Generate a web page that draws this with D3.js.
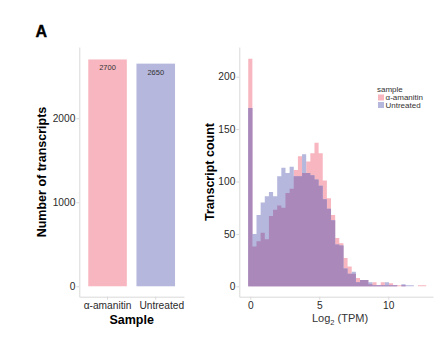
<!DOCTYPE html>
<html>
<head>
<meta charset="utf-8">
<script src="https://cdn.jsdelivr.net/npm/d3@7"></script>
<style>
  body { margin: 0; background: #fff; }
  svg text { font-family: "Liberation Sans", Arial, sans-serif; }
  .axis path, .axis line { stroke: #d9d9d9; }
  .axis text { fill: #2b2b2b; font-size: 10.2px; }
</style>
</head>
<body>
<div id="chart"></div>
<script>
// bar panel
const samples = ["α-amanitin", "Untreated"];
const transcriptTotals = [2700, 2650];
const barTicks = [0, 1000, 2000];

// histogram panel, log2(TPM) bins of width 0.3
const binWidth = 0.3;
const binCenters = [0, 0.3, 0.6, 0.9, 1.2, 1.5, 1.8, 2.1, 2.4, 2.7, 3.0, 3.3, 3.6, 3.9, 4.2, 4.5, 4.8, 5.1, 5.4, 5.7,
  6.0, 6.3, 6.6, 6.9, 7.2, 7.5, 7.8, 8.1, 8.4, 8.7, 9.0, 9.3, 9.6, 9.9, 10.2, 10.5, 10.8, 11.1, 11.4, 11.7, 12.0, 12.3, 12.6];
const amanitinCounts = [217, 38, 43, 51, 45, 67, 73, 77, 75, 89, 93, 111, 124, 108, 119, 127, 137, 127, 101, 84,
  68, 46, 41, 27, 19, 12, 8, 6, 6, 2, 4, 1, 4, 1, 3, 1, 1, 1, 0, 0, 0, 1, 1];
const untreatedCounts = [170, 50, 68, 80, 86, 90, 86, 105, 113, 108, 114, 105, 105, 126, 108, 106, 102, 96, 83, 74,
  63, 40, 39, 17, 12, 14, 4, 6, 6, 4, 1, 1, 1, 4, 1, 1, 0, 2, 1, 1, 0, 0, 0];
const histXTicks = [0, 5, 10];
const histYTicks = [0, 50, 100, 150, 200];

const colors = ["#f8b7c0", "#b5b7dc"];
const overlapColor = "#aa88ba";

const svg = d3.select("#chart").append("svg")
  .attr("width", 442).attr("height", 339);

svg.append("text").attr("x", 35.5).attr("y", 37)
  .attr("font-size", 16).attr("font-weight", "bold").attr("stroke", "#000").attr("stroke-width", 0.4)
  .text("A");

// ---------- left: bar chart ----------
const bx = d3.scaleBand().domain(samples).range([79.3, 184])
  .paddingInner(0.2).paddingOuter(0.186);
const by = d3.scaleLinear().domain([-124, 2848]).range([296.7, 47]);

const bars = svg.append("g");
bars.selectAll("rect").data(samples).join("rect")
  .attr("x", d => bx(d))
  .attr("width", bx.bandwidth())
  .attr("y", (d, i) => by(transcriptTotals[i]))
  .attr("height", (d, i) => by(0) - by(transcriptTotals[i]))
  .attr("fill", (d, i) => colors[i]);
bars.selectAll("text").data(samples).join("text")
  .attr("x", d => bx(d) + bx.bandwidth() / 2)
  .attr("y", (d, i) => by(transcriptTotals[i]) + 11)
  .attr("text-anchor", "middle").attr("font-size", 7.5).attr("fill", "#333")
  .text((d, i) => transcriptTotals[i]);

svg.append("g").attr("class", "axis")
  .attr("transform", "translate(79.3,0)")
  .call(d3.axisLeft(by).tickValues(barTicks).tickFormat(d3.format("d"))
    .tickSize(3).tickSizeOuter(0).tickPadding(1));
svg.append("g").attr("class", "axis")
  .attr("transform", "translate(0,296.7)")
  .call(d3.axisBottom(bx).tickSize(3).tickSizeOuter(0).tickPadding(2))
  .selectAll("text").attr("font-size", 10.6)
  .attr("dx", (d, i) => i === 1 ? 6 : 0);

svg.append("text")
  .attr("transform", "translate(45.5,172) rotate(-90)")
  .attr("text-anchor", "middle").attr("font-size", 12.5).attr("font-weight", "bold")
  .text("Number of transcripts");
svg.append("text").attr("x", 131.7).attr("y", 324)
  .attr("text-anchor", "middle").attr("font-size", 12.5).attr("font-weight", "bold")
  .text("Sample");

// ---------- right: histogram ----------
const hx = d3.scaleLinear().domain([-0.797, 13.24]).range([239.3, 433]);
const hy = d3.scaleLinear().domain([-9.9, 228.3]).range([296.7, 47]);

function steps(counts) {
  const pts = [];
  binCenters.forEach((c, i) => {
    pts.push({ x: c - binWidth / 2, y: counts[i] });
    pts.push({ x: c + binWidth / 2, y: counts[i] });
  });
  return pts;
}
const area = d3.area()
  .x(d => hx(d.x))
  .y0(hy(0))
  .y1(d => hy(d.y));

const overlap = amanitinCounts.map((v, i) => Math.min(v, untreatedCounts[i]));
const hist = svg.append("g");
hist.append("path").datum(steps(amanitinCounts)).attr("d", area).attr("fill", colors[0]);
hist.append("path").datum(steps(untreatedCounts)).attr("d", area).attr("fill", colors[1]);
hist.append("path").datum(steps(overlap)).attr("d", area).attr("fill", overlapColor);

svg.append("g").attr("class", "axis")
  .attr("transform", "translate(239.3,0)")
  .call(d3.axisLeft(hy).tickValues(histYTicks).tickSize(3).tickSizeOuter(0).tickPadding(1));
svg.append("g").attr("class", "axis")
  .attr("transform", "translate(0,296.7)")
  .call(d3.axisBottom(hx).tickValues(histXTicks).tickSize(3).tickSizeOuter(0).tickPadding(2));

svg.append("text")
  .attr("transform", "translate(213.5,172) rotate(-90)")
  .attr("text-anchor", "middle").attr("font-size", 12.5).attr("font-weight", "bold")
  .text("Transcript count");

const xt = svg.append("text").attr("x", 340).attr("y", 322)
  .attr("text-anchor", "middle").attr("font-size", 11).attr("fill", "#333");
xt.append("tspan").text("Log");
xt.append("tspan").attr("font-size", 7.5).attr("dy", 3).text("2");
xt.append("tspan").attr("dy", -3).text(" (TPM)");

// legend
const legend = svg.append("g").attr("transform", "translate(377,85)");
legend.append("text").attr("x", 0).attr("y", 7).attr("font-size", 8).attr("fill", "#333").text("sample");
const li = legend.selectAll("g").data(samples).join("g")
  .attr("transform", (d, i) => `translate(1,${9.5 + i * 7.5})`);
li.append("rect").attr("width", 6).attr("height", 6).attr("fill", (d, i) => colors[i]);
li.append("text").attr("x", 7.5).attr("y", 5.6).attr("font-size", 8).attr("fill", "#333").text(d => d);
</script>
</body>
</html>
